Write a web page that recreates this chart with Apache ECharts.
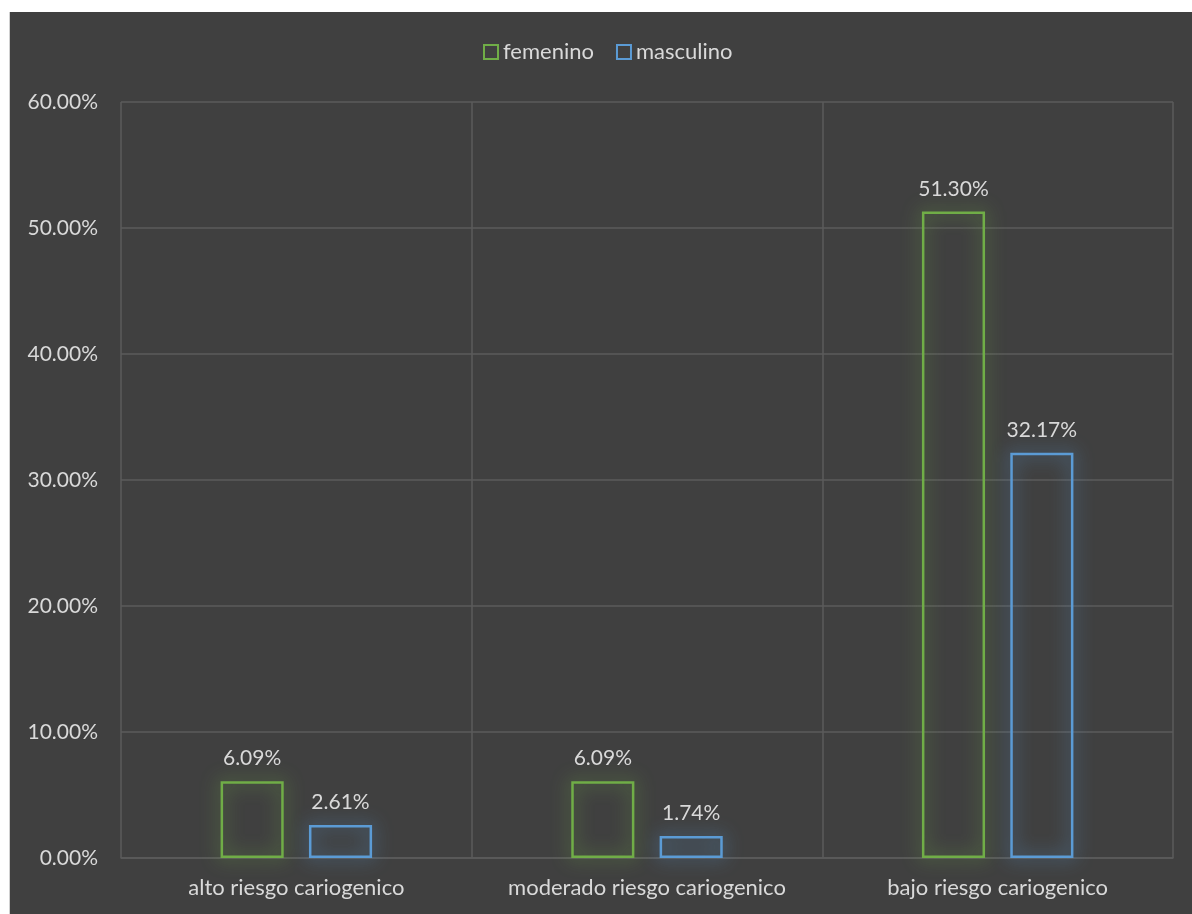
<!DOCTYPE html>
<html>
<head>
<meta charset="utf-8">
<script src="https://cdn.jsdelivr.net/npm/echarts@6/dist/echarts.min.js"></script>
<style>
html,body{margin:0;padding:0;background:#ffffff;width:1192px;height:914px;overflow:hidden;}
#chart{position:absolute;left:9px;top:12px;width:1183px;height:902px;background:#404040;border-left:1px solid #d0d0d0;box-sizing:border-box;}
</style>
</head>
<body>
<div id="chart"></div>
<script>
const categories = ['alto riesgo cariogenico', 'moderado riesgo cariogenico', 'bajo riesgo cariogenico'];
const femenino = [6.09, 6.09, 51.30];
const masculino = [2.61, 1.74, 32.17];
const seriesNames = ['femenino', 'masculino'];
const yTicks = [0, 10, 20, 30, 40, 50, 60];

const FONT = 'Lato, "Open Sans", sans-serif';
const TXT = '#d9d9d9';
const GRID = '#5b5b5b';
const GREEN = '#70AD47';
const BLUE = '#5B9BD5';

function barSeries(name, data, color, glow) {
  return {
    name: name,
    type: 'bar',
    data: data,
    barWidth: '18%',
    barGap: '40%',
    itemStyle: {
      color: 'none',
      borderColor: color,
      borderWidth: 2.5,
      shadowBlur: 18,
      shadowColor: glow
    },
    label: {
      show: true,
      position: 'top',
      distance: 11,
      color: TXT,
      fontFamily: FONT,
      fontSize: 21,
      formatter: p => p.value.toFixed(2) + '%'
    },
    emphasis: { disabled: true }
  };
}

const chart = echarts.init(document.getElementById('chart'), null, { renderer: 'canvas' });
chart.setOption({
  backgroundColor: 'transparent',
  animation: false,
  legend: {
    top: 24,
    left: 468,
    itemWidth: 14,
    itemHeight: 14,
    itemGap: 22,
    textStyle: { color: TXT, fontFamily: FONT, fontSize: 22, padding: [0, 0, 0, 0] },
    data: [
      { name: seriesNames[0], icon: 'rect', itemStyle: { color: 'rgba(0,0,0,0)', borderColor: GREEN, borderWidth: 2, shadowBlur: 0 } },
      { name: seriesNames[1], icon: 'rect', itemStyle: { color: 'rgba(0,0,0,0)', borderColor: BLUE, borderWidth: 2, shadowBlur: 0 } }
    ]
  },
  grid: { left: 111, right: 19, top: 90, bottom: 56, containLabel: false },
  xAxis: {
    type: 'category',
    data: categories,
    axisLine: { show: true, lineStyle: { color: GRID, width: 1.5 } },
    axisTick: { show: false },
    splitLine: { show: true, lineStyle: { color: GRID, width: 1.5 } },
    axisLabel: { color: TXT, fontFamily: FONT, fontSize: 22, margin: 19, interval: 0 }
  },
  yAxis: {
    type: 'value',
    min: yTicks[0],
    max: yTicks[yTicks.length - 1],
    interval: 10,
    axisLine: { show: false },
    axisTick: { show: false },
    splitLine: { show: true, lineStyle: { color: GRID, width: 1.5 } },
    axisLabel: { color: TXT, fontFamily: FONT, fontSize: 21, margin: 23, formatter: v => v.toFixed(2) + '%' }
  },
  series: [
    barSeries(seriesNames[0], femenino, GREEN, 'rgba(112,173,71,1)'),
    barSeries(seriesNames[1], masculino, BLUE, 'rgba(91,155,213,1)')
  ]
});
</script>
</body>
</html>
